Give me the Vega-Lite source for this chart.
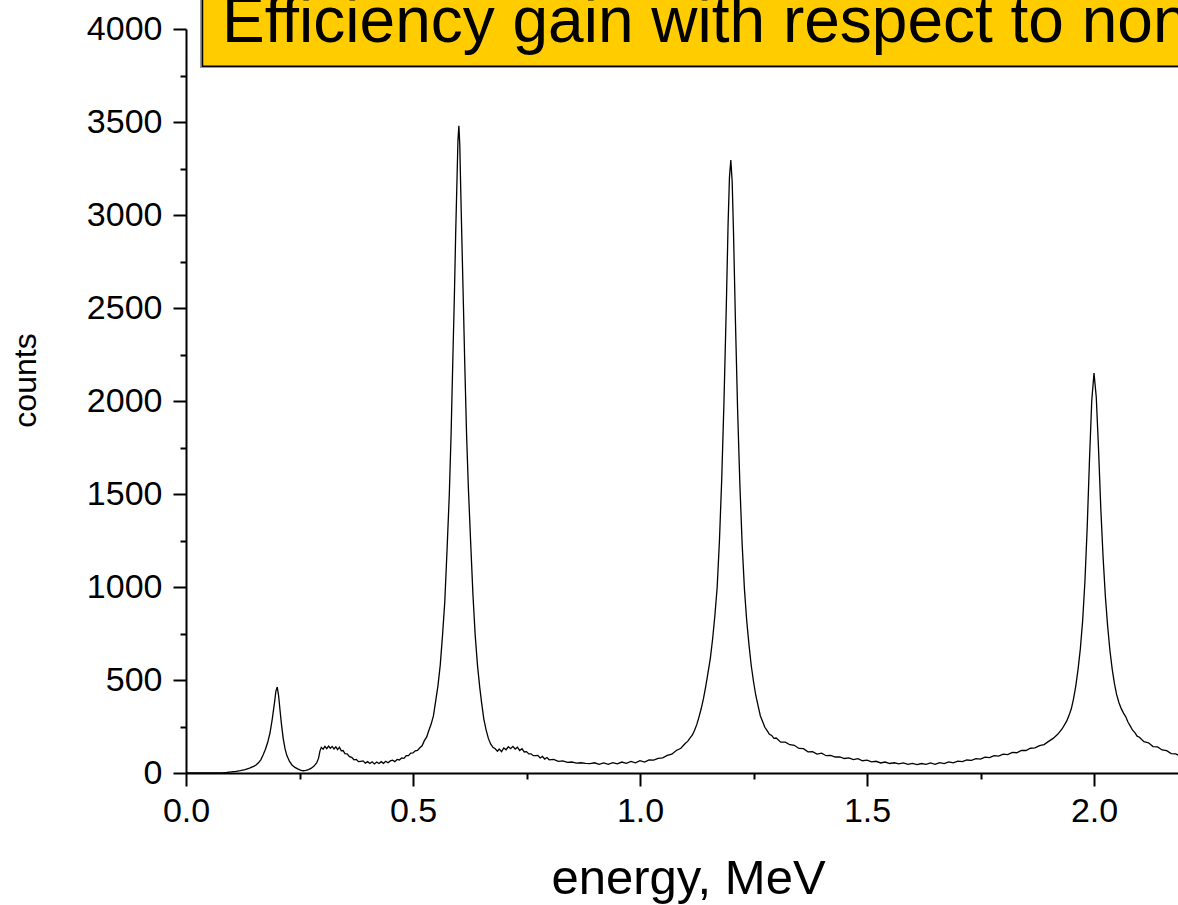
{
  "$schema": "https://vega.github.io/schema/vega-lite/v6.json",
  "width": 992,
  "height": 744,
  "autosize": {"type": "none"},
  "padding": {"left": 186, "top": 29, "right": 0, "bottom": 132},
  "background": "white",
  "config": {"view": {"stroke": null}, "font": "Liberation Sans"},
  "layer": [
    {
      "data": {"values": [
        {"e":0,"c":0},{"e":0.02,"c":0},{"e":0.04,"c":0},{"e":0.06,"c":0},{"e":0.08,"c":1},{"e":0.09,"c":3},
        {"e":0.10,"c":6},{"e":0.11,"c":9},{"e":0.12,"c":13},{"e":0.13,"c":18},{"e":0.14,"c":26},{"e":0.15,"c":37},
        {"e":0.155,"c":44},{"e":0.16,"c":56},{"e":0.165,"c":72},{"e":0.17,"c":98},{"e":0.175,"c":128},{"e":0.18,"c":165},
        {"e":0.185,"c":215},{"e":0.19,"c":290},{"e":0.195,"c":380},{"e":0.198,"c":440},{"e":0.201,"c":462},{"e":0.204,"c":415},
        {"e":0.207,"c":340},{"e":0.21,"c":268},{"e":0.214,"c":188},{"e":0.218,"c":132},{"e":0.222,"c":95},{"e":0.228,"c":62},
        {"e":0.234,"c":42},{"e":0.24,"c":30},{"e":0.246,"c":22},{"e":0.252,"c":16},{"e":0.258,"c":12},{"e":0.264,"c":14},
        {"e":0.27,"c":18},{"e":0.276,"c":26},{"e":0.282,"c":37},{"e":0.288,"c":55},{"e":0.292,"c":80},{"e":0.295,"c":118},
        {"e":0.298,"c":138},{"e":0.302,"c":128},{"e":0.306,"c":143},{"e":0.31,"c":131},{"e":0.314,"c":145},{"e":0.318,"c":133},
        {"e":0.322,"c":143},{"e":0.326,"c":129},{"e":0.33,"c":141},{"e":0.334,"c":126},{"e":0.338,"c":139},{"e":0.342,"c":119},
        {"e":0.346,"c":121},{"e":0.35,"c":104},{"e":0.355,"c":103},{"e":0.36,"c":88},{"e":0.365,"c":84},{"e":0.37,"c":71},
        {"e":0.375,"c":73},{"e":0.38,"c":61},{"e":0.385,"c":63},{"e":0.39,"c":65},{"e":0.395,"c":53},{"e":0.40,"c":61},
        {"e":0.405,"c":51},{"e":0.41,"c":60},{"e":0.415,"c":49},{"e":0.42,"c":59},{"e":0.425,"c":51},{"e":0.43,"c":61},
        {"e":0.435,"c":52},{"e":0.44,"c":63},{"e":0.445,"c":55},{"e":0.45,"c":65},{"e":0.455,"c":69},{"e":0.46,"c":61},
        {"e":0.465,"c":73},{"e":0.47,"c":70},{"e":0.475,"c":81},{"e":0.48,"c":79},{"e":0.485,"c":93},{"e":0.49,"c":93},
        {"e":0.495,"c":107},{"e":0.50,"c":108},{"e":0.505,"c":119},{"e":0.51,"c":122},{"e":0.515,"c":136},{"e":0.52,"c":146},
        {"e":0.525,"c":174},{"e":0.53,"c":193},{"e":0.535,"c":230},{"e":0.54,"c":263},{"e":0.545,"c":307},{"e":0.55,"c":388},
        {"e":0.555,"c":470},{"e":0.56,"c":580},{"e":0.565,"c":740},{"e":0.57,"c":920},{"e":0.575,"c":1200},{"e":0.58,"c":1500},
        {"e":0.584,"c":1830},{"e":0.588,"c":2250},{"e":0.591,"c":2550},{"e":0.594,"c":2900},{"e":0.597,"c":3200},{"e":0.599,"c":3400},
        {"e":0.601,"c":3480},{"e":0.603,"c":3380},{"e":0.605,"c":3150},{"e":0.608,"c":2830},{"e":0.611,"c":2520},{"e":0.614,"c":2200},
        {"e":0.618,"c":1820},{"e":0.622,"c":1530},{"e":0.627,"c":1240},{"e":0.632,"c":960},{"e":0.637,"c":740},{"e":0.642,"c":580},
        {"e":0.647,"c":460},{"e":0.651,"c":380},{"e":0.656,"c":290},{"e":0.661,"c":232},{"e":0.666,"c":186},{"e":0.671,"c":156},
        {"e":0.676,"c":138},{"e":0.681,"c":130},{"e":0.686,"c":117},{"e":0.69,"c":129},{"e":0.695,"c":115},{"e":0.70,"c":135},
        {"e":0.705,"c":125},{"e":0.71,"c":141},{"e":0.715,"c":131},{"e":0.72,"c":143},{"e":0.725,"c":129},{"e":0.73,"c":139},
        {"e":0.735,"c":121},{"e":0.74,"c":131},{"e":0.745,"c":113},{"e":0.75,"c":115},{"e":0.755,"c":103},{"e":0.76,"c":103},
        {"e":0.765,"c":93},{"e":0.77,"c":93},{"e":0.775,"c":95},{"e":0.78,"c":81},{"e":0.785,"c":89},{"e":0.79,"c":75},
        {"e":0.795,"c":83},{"e":0.80,"c":71},{"e":0.81,"c":73},{"e":0.82,"c":63},{"e":0.83,"c":65},{"e":0.84,"c":57},
        {"e":0.85,"c":59},{"e":0.86,"c":53},{"e":0.87,"c":55},{"e":0.88,"c":52},{"e":0.89,"c":50},{"e":0.90,"c":55},
        {"e":0.91,"c":47},{"e":0.92,"c":54},{"e":0.93,"c":47},{"e":0.94,"c":56},{"e":0.95,"c":49},{"e":0.96,"c":59},
        {"e":0.97,"c":52},{"e":0.98,"c":62},{"e":0.99,"c":55},{"e":1.00,"c":66},{"e":1.01,"c":59},{"e":1.02,"c":70},
        {"e":1.03,"c":69},{"e":1.04,"c":79},{"e":1.05,"c":81},{"e":1.06,"c":95},{"e":1.07,"c":101},{"e":1.08,"c":121},
        {"e":1.09,"c":133},{"e":1.10,"c":160},{"e":1.105,"c":170},{"e":1.11,"c":187},{"e":1.115,"c":203},{"e":1.12,"c":229},
        {"e":1.125,"c":260},{"e":1.13,"c":302},{"e":1.135,"c":348},{"e":1.14,"c":402},{"e":1.145,"c":468},{"e":1.15,"c":542},
        {"e":1.155,"c":618},{"e":1.16,"c":722},{"e":1.165,"c":848},{"e":1.17,"c":1000},{"e":1.175,"c":1250},{"e":1.18,"c":1580},
        {"e":1.185,"c":2000},{"e":1.19,"c":2500},{"e":1.194,"c":2950},{"e":1.197,"c":3200},{"e":1.20,"c":3295},{"e":1.203,"c":3180},
        {"e":1.206,"c":2900},{"e":1.21,"c":2450},{"e":1.215,"c":1950},{"e":1.22,"c":1550},{"e":1.225,"c":1230},{"e":1.23,"c":990},
        {"e":1.235,"c":820},{"e":1.24,"c":690},{"e":1.245,"c":578},{"e":1.25,"c":492},{"e":1.255,"c":418},{"e":1.26,"c":362},
        {"e":1.265,"c":308},{"e":1.27,"c":277},{"e":1.275,"c":246},{"e":1.28,"c":228},{"e":1.285,"c":208},{"e":1.29,"c":202},
        {"e":1.295,"c":186},{"e":1.30,"c":188},{"e":1.31,"c":166},{"e":1.32,"c":166},{"e":1.33,"c":152},{"e":1.34,"c":149},
        {"e":1.35,"c":132},{"e":1.36,"c":131},{"e":1.37,"c":114},{"e":1.38,"c":115},{"e":1.39,"c":102},{"e":1.40,"c":107},
        {"e":1.41,"c":93},{"e":1.42,"c":95},{"e":1.43,"c":86},{"e":1.44,"c":87},{"e":1.45,"c":78},{"e":1.46,"c":81},
        {"e":1.47,"c":72},{"e":1.48,"c":77},{"e":1.49,"c":66},{"e":1.50,"c":69},{"e":1.51,"c":60},{"e":1.52,"c":63},
        {"e":1.53,"c":54},{"e":1.54,"c":59},{"e":1.55,"c":51},{"e":1.56,"c":55},{"e":1.57,"c":49},{"e":1.58,"c":54},
        {"e":1.59,"c":46},{"e":1.60,"c":52},{"e":1.61,"c":45},{"e":1.62,"c":51},{"e":1.63,"c":46},{"e":1.64,"c":54},
        {"e":1.65,"c":47},{"e":1.66,"c":56},{"e":1.67,"c":51},{"e":1.68,"c":60},{"e":1.69,"c":55},{"e":1.70,"c":64},
        {"e":1.71,"c":61},{"e":1.72,"c":70},{"e":1.73,"c":68},{"e":1.74,"c":77},{"e":1.75,"c":75},{"e":1.76,"c":85},
        {"e":1.77,"c":83},{"e":1.78,"c":93},{"e":1.79,"c":91},{"e":1.80,"c":101},{"e":1.81,"c":99},{"e":1.82,"c":111},
        {"e":1.83,"c":109},{"e":1.84,"c":121},{"e":1.85,"c":121},{"e":1.86,"c":133},{"e":1.87,"c":135},{"e":1.88,"c":147},
        {"e":1.89,"c":153},{"e":1.90,"c":170},{"e":1.91,"c":186},{"e":1.92,"c":208},{"e":1.93,"c":238},{"e":1.94,"c":280},
        {"e":1.945,"c":310},{"e":1.95,"c":345},{"e":1.955,"c":400},{"e":1.96,"c":470},{"e":1.965,"c":560},{"e":1.97,"c":670},
        {"e":1.975,"c":820},{"e":1.98,"c":1030},{"e":1.985,"c":1320},{"e":1.99,"c":1680},{"e":1.995,"c":2000},{"e":2.0,"c":2150},
        {"e":2.005,"c":2020},{"e":2.01,"c":1740},{"e":2.015,"c":1420},{"e":2.02,"c":1160},{"e":2.025,"c":950},{"e":2.03,"c":790},
        {"e":2.035,"c":660},{"e":2.04,"c":560},{"e":2.045,"c":480},{"e":2.05,"c":420},{"e":2.055,"c":378},{"e":2.06,"c":346},
        {"e":2.065,"c":322},{"e":2.07,"c":302},{"e":2.075,"c":273},{"e":2.08,"c":252},{"e":2.085,"c":230},{"e":2.09,"c":217},
        {"e":2.095,"c":198},{"e":2.10,"c":192},{"e":2.11,"c":168},{"e":2.12,"c":162},{"e":2.13,"c":142},{"e":2.14,"c":140},
        {"e":2.15,"c":124},{"e":2.16,"c":120},{"e":2.17,"c":104},{"e":2.18,"c":103},{"e":2.19,"c":90},{"e":2.20,"c":92}
      ]},
      "mark": {"type": "line", "color": "black", "strokeWidth": 1.3, "clip": true},
      "encoding": {
        "x": {
          "field": "e", "type": "quantitative",
          "scale": {"domain": [0, 2.185], "nice": false, "zero": false},
          "axis": {
            "title": "energy, MeV", "titleFont": "Liberation Sans", "titleFontSize": 49, "titleFontWeight": "normal",
            "titleColor": "black", "titleX": 502, "titleY": 120, "titleBaseline": "alphabetic", "titleAlign": "center",
            "values": [0, 0.25, 0.5, 0.75, 1, 1.25, 1.5, 1.75, 2],
            "labelExpr": "datum.value % 0.5 === 0 ? format(datum.value, '.1f') : ''",
            "labelFont": "Liberation Sans", "labelFontSize": 34, "labelColor": "black", "labelPadding": 8,
            "labelFlush": false, "labelOverlap": false,
            "tickSize": {"condition": {"test": "datum.value % 0.5 === 0", "value": 13}, "value": 6},
            "tickWidth": 2, "tickColor": "black", "domainWidth": 2, "domainColor": "black", "grid": false
          }
        },
        "y": {
          "field": "c", "type": "quantitative",
          "scale": {"domain": [0, 4000], "nice": false},
          "axis": {
            "title": "counts", "titleFont": "Liberation Sans", "titleFontSize": 32, "titleFontWeight": "normal",
            "titleColor": "black", "titleX": -151, "titleY": 351, "titleBaseline": "alphabetic", "titleAlign": "center",
            "values": [0, 250, 500, 750, 1000, 1250, 1500, 1750, 2000, 2250, 2500, 2750, 3000, 3250, 3500, 3750, 4000],
            "format": "d",
            "labelExpr": "datum.value % 500 === 0 ? datum.label : ''",
            "labelFont": "Liberation Sans", "labelFontSize": 34, "labelColor": "black", "labelPadding": 11,
            "labelOverlap": false, "labelFlush": false,
            "tickSize": {"condition": {"test": "datum.value % 500 === 0", "value": 13}, "value": 6},
            "tickWidth": 2, "tickColor": "black", "domainWidth": 2, "domainColor": "black", "grid": false
          }
        }
      }
    },
    {
      "data": {"values": [{}]},
      "mark": {"type": "rect", "color": "#9a9a9a", "clip": false},
      "encoding": {
        "x": {"datum": 0.0308, "type": "quantitative"},
        "x2": {"datum": 2.6},
        "y": {"datum": 3790, "type": "quantitative"},
        "y2": {"datum": 4400}
      }
    },
    {
      "data": {"values": [{}]},
      "mark": {"type": "rect", "fill": "#FFCC00", "stroke": "black", "strokeWidth": 1.5, "clip": false},
      "encoding": {
        "x": {"datum": 0.0363, "type": "quantitative"},
        "x2": {"datum": 2.6},
        "y": {"datum": 3800, "type": "quantitative"},
        "y2": {"datum": 4400}
      }
    },
    {
      "data": {"values": [{}]},
      "mark": {"type": "text", "text": "Efficiency gain with respect to non", "font": "Liberation Sans", "fontSize": 64,
               "align": "left", "baseline": "alphabetic", "color": "black", "clip": false},
      "encoding": {
        "x": {"datum": 0.0793, "type": "quantitative"},
        "y": {"datum": 3930, "type": "quantitative"}
      }
    }
  ]
}
